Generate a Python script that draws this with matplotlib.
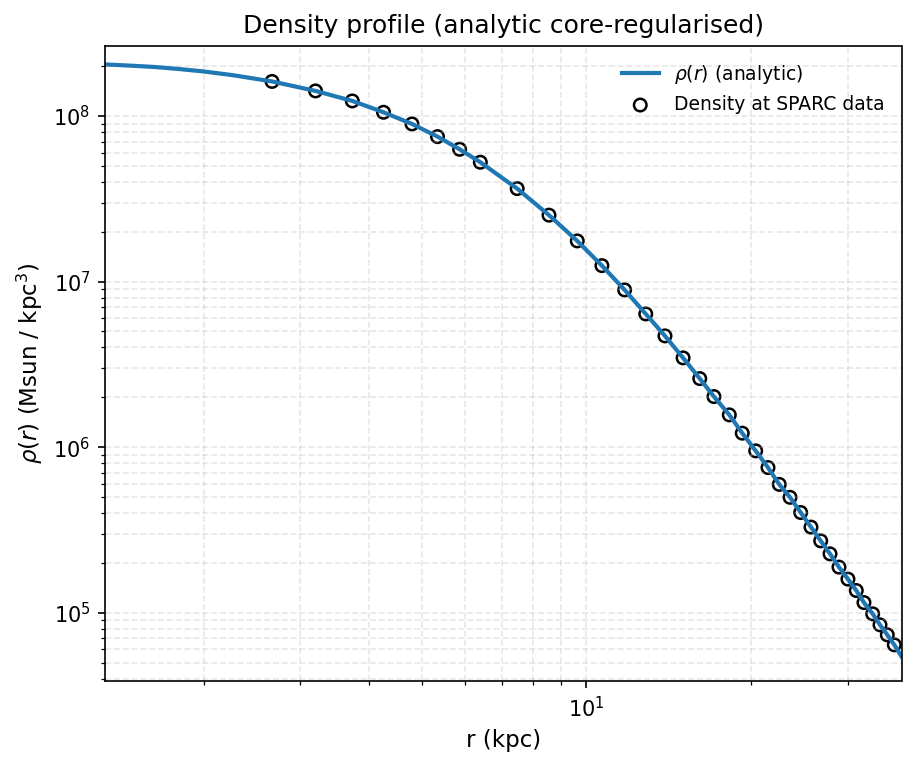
import matplotlib
matplotlib.use("Agg")
import matplotlib.pyplot as plt
import numpy as np

# Radii of SPARC data points (kpc) and density (Msun/kpc^3)
r_data = [2.666, 3.201, 3.736, 4.260, 4.802, 5.346, 5.866, 6.400, 7.473, 8.542,
          9.620, 10.67, 11.74, 12.83, 13.91, 15.01, 16.10, 17.09, 18.23, 19.25,
          20.37, 21.45, 22.49, 23.53, 24.61, 25.70, 26.77, 27.84, 28.91, 30.02,
          31.09, 32.11, 33.31, 34.35, 35.42, 36.48]
rho_data = [1.618e8, 1.418e8, 1.234e8, 1.054e8, 8.96e7, 7.51e7, 6.30e7, 5.26e7, 3.645e7, 2.52e7,
            1.761e7, 1.249e7, 8.91e6, 6.38e6, 4.70e6, 3.462e6, 2.596e6, 2.021e6, 1.567e6, 1.215e6,
            9.50e5, 7.53e5, 5.96e5, 4.98e5, 4.03e5, 3.29e5, 2.718e5, 2.268e5, 1.886e5, 1.596e5,
            1.362e5, 1.152e5, 9.85e4, 8.45e4, 7.35e4, 6.40e4]

# Analytic curve
r_inner = [1.321, 1.46, 1.619, 1.80, 1.997, 2.265]
rho_inner = [2.050e8, 2.018e8, 1.981e8, 1.924e8, 1.860e8, 1.764e8]
r_outer = [37.6]
rho_outer = [5.44e4]
r_curve = r_inner + r_data + r_outer
rho_curve = rho_inner + rho_data + rho_outer

fig = plt.figure(figsize=(917 / 150, 767 / 150), dpi=150)
ax = fig.add_axes([105 / 917, 1 - 681 / 767, (901.5 - 105) / 917, (681 - 45.7) / 767])

ax.plot(r_curve, rho_curve, color="#1f77b4", lw=2, label=r"$\rho(r)$ (analytic)")
ax.scatter(r_data, rho_data, s=36, facecolors="none", edgecolors="black",
           linewidths=1.2, label="Density at SPARC data")

ax.set_xscale("log")
ax.set_yscale("log")
ax.set_xlim(1.321, 37.6)
ax.set_ylim(3.87e4, 2.66e8)

ax.grid(True, which="both", ls="--", alpha=0.3)
ax.set_title("Density profile (analytic core-regularised)", fontsize=12)
ax.set_xlabel("r (kpc)", fontsize=11)
ax.set_ylabel(r"$\rho(r)$ (Msun / kpc$^3$)", fontsize=11)
ax.legend(loc="upper right", frameon=False, fontsize=9)

fig.savefig("out.png", dpi=150)
